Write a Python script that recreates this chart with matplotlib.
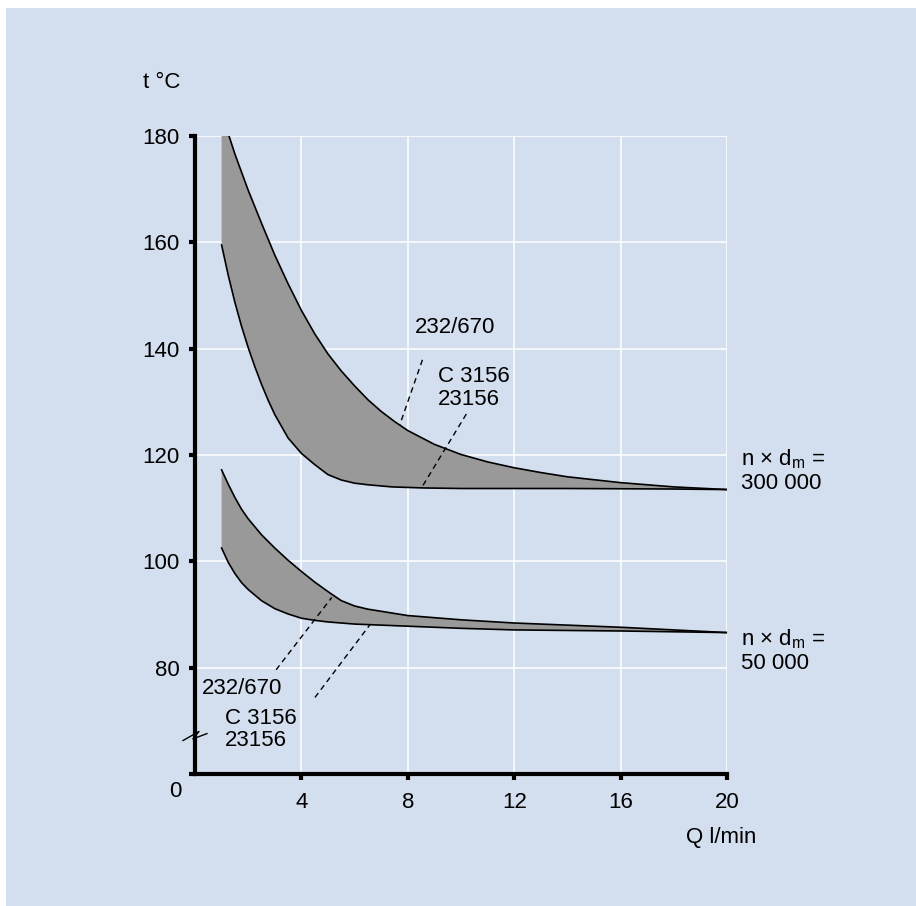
import numpy as np
import matplotlib.pyplot as plt
from matplotlib.patches import Rectangle

plt.rcParams['font.family'] = ['Liberation Sans', 'DejaVu Sans']
plt.rcParams['mathtext.default'] = 'regular'

# Q (l/min) vs t (°C), n x dm = 300 000
q_hi300 = [1.0, 1.28, 1.5, 2.0, 2.5, 3.0, 3.5, 4.0, 4.5, 5.0, 5.5, 6.0, 6.5, 7.0, 7.5, 8.0,
           9.0, 10.0, 11.0, 12.0, 13.0, 14.0, 16.0, 18.0, 20.0]
t_hi300 = [184.5, 180.0, 176.6, 169.8, 163.6, 157.6, 152.2, 147.2, 142.8, 139.0, 135.8, 133.0, 130.4,
           128.2, 126.3, 124.6, 122.0, 120.1, 118.7, 117.6, 116.7, 115.9, 114.8, 114.0, 113.5]
q_lo300 = [1.0, 1.25, 1.5, 1.75, 2.0, 2.25, 2.5, 2.75, 3.0, 3.5, 4.0, 4.5, 5.0, 5.5, 6.0, 6.5,
           7.4, 8.6, 10.0, 14.0, 18.0, 20.0]
t_lo300 = [159.5, 153.8, 148.7, 144.2, 140.2, 136.6, 133.3, 130.3, 127.6, 123.2, 120.3, 118.2,
           116.3, 115.3, 114.7, 114.4, 114.0, 113.8, 113.7, 113.7, 113.6, 113.5]

# n x dm = 50 000
q_hi50 = [1.0, 1.25, 1.5, 1.75, 2.0, 2.5, 3.0, 3.5, 4.0, 4.5, 5.0, 5.5, 6.0, 6.5, 7.0, 8.0,
          10.0, 12.0, 14.0, 16.0, 18.0, 20.0]
t_hi50 = [117.2, 114.5, 112.0, 109.8, 108.0, 105.0, 102.5, 100.2, 98.1, 96.1, 94.3, 92.6, 91.6,
          91.0, 90.6, 89.8, 89.0, 88.4, 88.0, 87.6, 87.1, 86.6]
q_lo50 = [1.0, 1.25, 1.5, 1.75, 2.0, 2.5, 3.0, 3.5, 4.0, 4.5, 5.0, 6.0, 7.0, 8.0, 10.0, 12.0,
          16.0, 20.0]
t_lo50 = [102.5, 99.8, 97.7, 96.0, 94.7, 92.6, 91.1, 90.1, 89.3, 88.9, 88.6, 88.2, 88.0, 87.8,
          87.4, 87.1, 86.9, 86.6]

# leader lines (dashed) to the curve labels
lead_x = [[8.55, 7.7], [10.2, 8.5], [3.05, 5.14], [4.51, 6.58]]
lead_y = [[137.9, 125.7], [127.7, 113.7], [79.6, 93.2], [74.4, 88.1]]

xticks = [4, 8, 12, 16, 20]
yticks = [60, 80, 100, 120, 140, 160, 180]
ylabels = ['', '80', '100', '120', '140', '160', '180']

bg = '#d3deee'
fs = 16

fig = plt.figure(figsize=(9.16, 9.06), dpi=100, facecolor='white')
fig.patches.append(Rectangle((6 / 916, 0), 1, 1 - 8 / 906, transform=fig.transFigure,
                             facecolor=bg, edgecolor='none', zorder=-10))
ax = fig.add_axes([195 / 916, 132 / 906, 532 / 916, 638 / 906])
ax.set_facecolor(bg)
ax.set_xlim(0, 20)
ax.set_ylim(60, 180)

for s in ['top', 'right']:
    ax.spines[s].set_visible(False)
for s in ['left', 'bottom']:
    ax.spines[s].set_linewidth(3)
    ax.spines[s].set_capstyle('projecting')

ax.set_xticks(xticks)
ax.set_yticks(yticks)
ax.set_yticklabels(ylabels)
ax.tick_params(axis='x', direction='out', length=4, width=3, pad=9, labelsize=fs)
ax.tick_params(axis='y', direction='out', length=4, width=3, pad=7, labelsize=fs)
ax.grid(True, color='white', linewidth=1.1)
ax.set_axisbelow(True)

# gray bands
ax.fill(q_hi300 + q_lo300[::-1], t_hi300 + t_lo300[::-1], color='#999999', lw=0, zorder=2)
ax.fill(q_hi50 + q_lo50[::-1], t_hi50 + t_lo50[::-1], color='#999999', lw=0, zorder=2)
for qq, tt in [(q_hi300, t_hi300), (q_lo300, t_lo300), (q_hi50, t_hi50), (q_lo50, t_lo50)]:
    ax.plot(qq, tt, color='black', lw=1.2, zorder=3, solid_joinstyle='round')

for lx, ly in zip(lead_x, lead_y):
    ax.plot(lx, ly, color='black', lw=1.0, linestyle=(0, (4, 3)), zorder=4)

ax.text(8.27, 143.9, '232/670', fontsize=fs, va='center', ha='left')
ax.text(9.14, 132.6, 'C 3156\n23156', fontsize=fs, va='center', ha='left', linespacing=1.1)
ax.text(0.25, 76.05, '232/670', fontsize=fs, va='center', ha='left')
ax.text(1.13, 68.35, 'C 3156\n23156', fontsize=fs, va='center', ha='left', linespacing=1.1)
ax.text(20.53, 117.0, 'n × d$_m$ =\n300 000', fontsize=fs, va='center', ha='left', linespacing=1.1)
ax.text(20.53, 83.2, 'n × d$_m$ =\n50 000', fontsize=fs, va='center', ha='left', linespacing=1.1)
ax.text(-0.75, 56.7, '0', fontsize=fs, va='center', ha='center')

# axis break mark
ax.plot([-0.45, 0.15, -0.08, 0.45], [66.3, 68.0, 66.6, 67.6], color='black', lw=1.0,
        clip_on=False, zorder=5)

fig.text(143 / 916, 1 - 83 / 906, 't °C', fontsize=fs, va='center', ha='left')
fig.text(686 / 916, 1 - 838 / 906, 'Q l/min', fontsize=fs, va='center', ha='left')

fig.savefig('out.png', dpi=100, facecolor=fig.get_facecolor())
